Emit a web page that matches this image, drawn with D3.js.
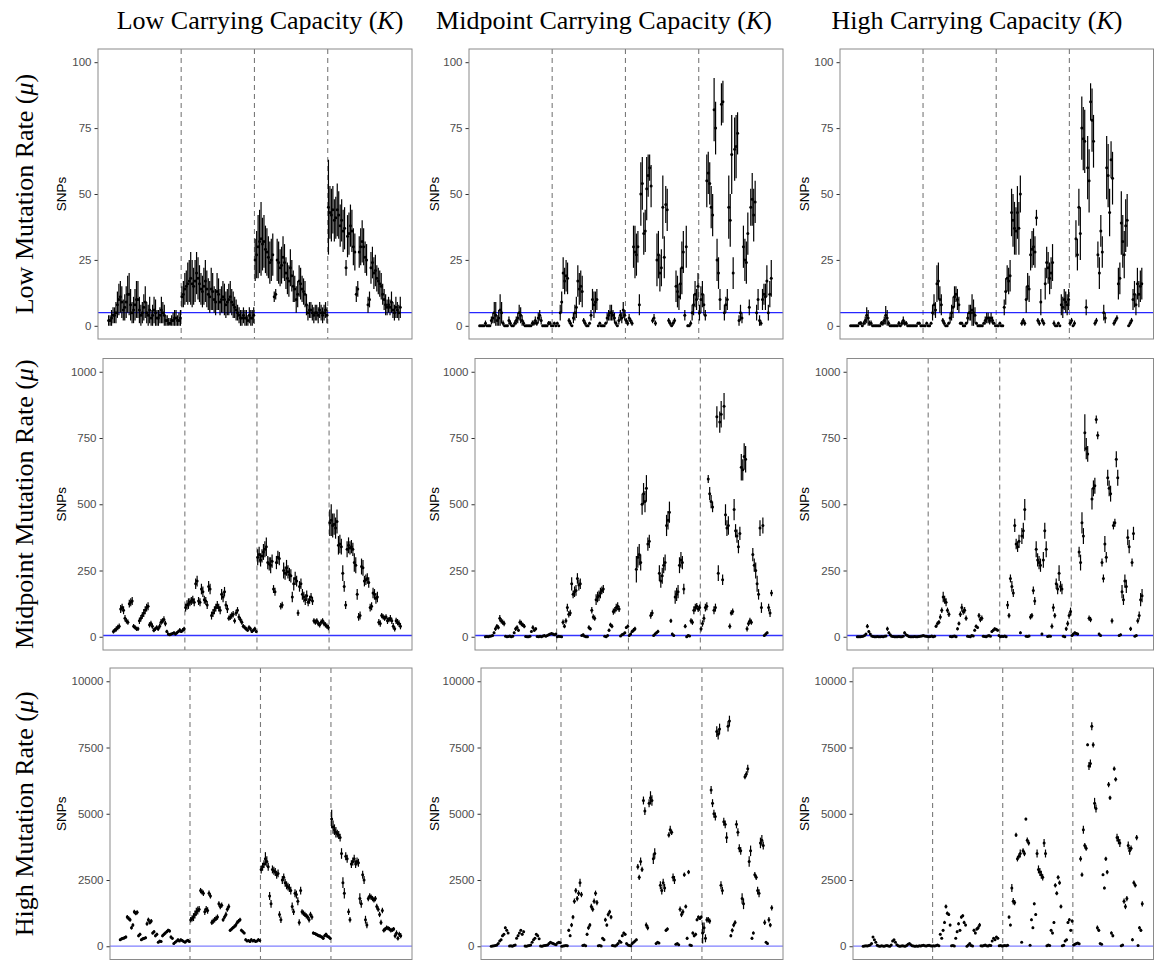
<!DOCTYPE html>
<html><head><meta charset="utf-8">
<script src="https://cdn.jsdelivr.net/npm/d3@7"></script>
<style>body{margin:0;background:#fff}</style>
</head><body>
<svg id="chart" width="1154" height="960"></svg>
<script>
// ---------- labels ----------
const colLevels = ["Low", "Midpoint", "High"];      // Carrying Capacity (K)
const rowLevels = ["Low", "Midpoint", "High"];      // Mutation Rate (μ)
const yTickValues = [[0,25,50,75,100],[0,250,500,750,1000],[0,2500,5000,7500,10000]];
const yMaxByRow = [100, 1000, 10000];
const thresholdSNPs = 5;

// ---------- data: per panel, 4 groups of mean SNPs and error half-widths ----------
const lowK_lowMu = [
 [2,2,3,4,4,5,8,10,11,9,6,7,9,12,12,8,5,6,8,10,10,6,4,5,7,9,5,4,6,3,4,6,5,3,3,4,6,5,4,2,2,1,1,2,2,3,3,2,2,3],
 [11,12,14,15,16,17,18,16,15,17,20,18,16,14,13,15,17,14,12,11,14,13,10,9,13,12,9,10,11,10,8,9,10,11,9,8,7,6,5,4,3,3,4,3,3,2,4,3,3,4],
 [25,27,30,32,33,31,32,29,28,26,24,25,27,11,12,25,24,22,23,26,24,20,18,17,22,19,15,14,10,12,17,16,14,13,12,8,5,6,6,5,4,5,5,4,6,5,4,5,6,4],
 [45,43,42,44,40,41,44,42,38,40,36,37,22,34,35,38,36,30,28,12,14,28,30,32,30,26,25,8,10,22,24,20,21,18,17,16,15,12,10,8,7,8,7,9,6,5,7,6,5,7]];
const lowK_lowMu_err = [
 [2,2,3,3,3,4,5,6,6,6,4,5,6,7,8,6,4,5,6,7,7,5,4,4,5,6,4,4,5,3,4,5,5,3,3,3,5,4,4,2,2,2,2,2,3,3,3,2,3,3],
 [4,5,6,6,8,8,10,9,7,8,8,8,7,6,6,7,8,7,6,6,8,7,5,5,7,6,5,5,6,6,5,5,6,6,5,5,4,4,3,3,3,3,3,3,3,2,3,3,3,3],
 [8,9,12,12,14,10,10,9,9,8,8,8,8,2,2,8,8,7,7,8,7,6,6,6,7,6,6,5,5,5,6,6,5,5,5,4,3,3,3,3,3,3,3,3,3,3,3,3,3,3],
 [18,10,10,9,8,8,10,9,8,8,8,8,3,8,8,8,8,7,7,3,3,6,7,8,7,6,6,3,3,6,6,6,6,5,5,5,5,4,4,4,3,3,3,4,3,3,4,3,3,4]];

const midK_lowMu = [
 [0,0,0,0,1,0,0,0,2,3,5,4,2,3,6,5,1,0,0,0,2,1,0,0,1,2,3,5,4,2,1,0,0,0,0,0,1,1,2,1,3,4,2,0,0,0,0,1,1,0],
 [0,1,0,1,0,5,9,20,17,19,18,2,1,0,3,5,7,17,14,15,13,2,1,0,0,1,4,10,8,9,10,0,1,0,0,0,1,3,4,5,5,4,3,1,0,2,4,3,6,4],
 [2,1,3,2,1,30,28,27,30,8,50,54,35,36,52,57,60,53,2,3,1,25,27,20,22,45,26,46,44,2,1,0,1,2,15,13,11,16,22,28,4,30,0,0,1,5,8,12,10,15],
 [5,10,12,8,4,55,58,54,45,42,82,75,25,20,10,84,85,5,8,10,45,40,65,20,67,68,73,2,5,3,30,25,24,35,7,45,48,42,47,5,10,2,1,10,12,11,17,5,12,18]];
const midK_lowMu_err = [
 [0.3,0.3,0.3,0.3,1,0.3,0.3,0.3,1.5,2,4,5,2,3,6,4,1,0.3,0.3,0.3,1.5,1,0.3,0.3,1,1.5,2,3,3,2,1,0.3,0.3,0.3,0.3,0.3,1,1,1.5,1,2,2,1.5,0.3,0.3,0.3,0.3,0.8,0.8,0.3],
 [0.3,0.5,0.3,0.5,0.3,3,4,6,5,6,6,1,1,0.3,2,3,4,6,6,6,6,1,1,0.3,0.3,0.5,2,4,5,4,4,0.3,0.5,0.3,0.3,0.3,0.5,2,2,3,3,2,2,1,0.3,1.5,2,2,3,2],
 [1,1,1.5,1,1,8,10,8,6,4,12,10,8,8,12,8,5,8,1,1.5,1,10,9,7,7,12,8,7,8,1,1,0.5,1,1,6,6,5,6,10,8,2,8,0.5,0.5,1,3,4,5,4,5],
 [3,5,5,4,2,10,8,8,8,8,12,10,8,6,4,8,8,3,3,4,12,10,15,6,12,12,8,2,3,2,8,8,8,8,3,7,10,10,8,3,4,2,1,4,4,5,6,3,5,7]];

const highK_lowMu = [
 [0,0,0,0,0,0,1,1,0,1,2,4,3,1,1,0,0,0,0,0,0,1,1,2,4,3,1,0,0,0,0,0,0,1,0,1,2,1,1,0,0,0,0,0,0,0,1,1,0,0],
 [0,0,1,0,0,1,5,8,6,16,17,10,8,2,1,0,0,1,3,5,7,11,12,10,8,1,1,0,0,1,3,5,5,6,5,4,1,0,0,0,0,1,2,3,3,2,3,2,1,0],
 [0,0,1,0,0,7,13,18,17,19,43,40,37,36,43,37,50,1,2,1,10,15,14,27,29,30,28,41,2,1,9,2,1,16,24,22,18,20,24,1,0,0,1,0,8,7,10,9,8,10],
 [1,2,0,1,33,27,45,35,75,71,70,7,60,55,85,78,70,1,2,27,20,36,28,5,3,60,57,43,63,56,1,2,3,16,18,39,32,27,38,40,0,1,2,10,12,8,16,12,15,16]];
const highK_lowMu_err = [
 [0.3,0.3,0.3,0.3,0.3,0.3,0.5,0.8,0.3,0.8,1.5,3,3,1,1,0.3,0.3,0.3,0.3,0.3,0.3,0.8,1,1.5,3.5,3,1,0.3,0.3,0.3,0.3,0.3,0.3,0.8,0.3,1,1.5,1,0.8,0.3,0.3,0.3,0.3,0.3,0.3,0.3,0.5,0.5,0.3,0.3],
 [0.3,0.3,0.5,0.3,0.3,0.5,3,4,3,7,7,5,4,1,1,0.3,0.3,0.5,2,3,4,4,3,4,3,0.5,0.5,0.3,0.3,0.5,2,3,3,6,5,3,0.5,0.3,0.3,0.3,0.3,0.5,1.5,2,2,1.5,2,1.5,0.5,0.3],
 [0.3,0.3,0.5,0.3,0.3,3,5,5,5,6,9,10,10,9,10,10,7,1,1,1,5,5,5,6,7,7,6,3,1,1,5,1,1,6,6,6,6,6,7,1,0.3,0.3,0.5,0.3,4,4,4,4,4,4],
 [1,1,0.5,1,7,6,7,10,12,12,12,3,12,12,7,12,10,1,1,5,6,6,6,3,2,12,12,9,7,10,1,1,1,6,6,12,10,9,10,10,0.5,1,1,4,5,4,6,5,6,6]];

const lowK_midMu = [
 [20,25,30,35,40,105,110,100,70,60,55,125,130,135,40,35,30,30,60,70,80,90,100,110,115,45,50,40,25,30,35,30,40,55,60,65,50,20,10,8,10,12,15,10,15,20,25,20,25,30],
 [110,120,125,130,135,140,130,200,210,135,130,180,170,140,135,120,190,180,80,90,100,110,120,110,100,160,150,170,120,105,70,75,80,85,60,90,100,75,65,55,40,35,30,25,35,30,20,25,30,20],
 [300,310,290,305,320,330,340,280,275,270,285,180,170,280,300,295,115,120,250,240,260,245,235,230,150,200,220,210,90,190,200,160,150,140,155,130,140,150,135,60,55,60,50,45,55,60,50,45,40,35],
 [430,440,420,425,410,435,345,350,340,240,190,120,330,345,335,340,330,280,270,160,75,80,265,260,210,215,220,205,110,115,165,160,145,150,55,50,80,75,70,75,60,65,70,60,40,30,60,55,50,40]];
const lowK_midMu_err = [
 [8,8,10,10,10,15,15,15,12,10,10,15,15,15,8,8,8,8,12,12,12,15,15,15,15,10,10,10,8,8,8,8,10,12,10,12,10,6,5,5,5,5,5,5,6,6,8,6,8,8],
 [15,18,20,15,15,15,15,20,20,15,15,20,20,15,15,15,20,20,15,15,15,15,15,15,15,20,20,18,15,15,10,12,12,12,10,12,12,12,10,10,8,8,8,6,8,8,6,6,8,6],
 [30,30,25,25,30,30,35,25,25,30,25,15,15,25,25,25,12,12,30,25,30,25,25,25,20,25,25,20,12,20,20,20,20,20,20,15,15,15,15,10,10,10,10,10,10,10,10,10,10,10],
 [50,60,45,40,40,45,35,35,30,30,20,15,30,30,25,25,25,35,30,20,15,15,30,30,20,20,20,20,15,15,20,20,20,20,12,12,10,10,10,10,12,10,12,12,12,10,12,12,12,12]];

const midK_midMu = [
 [0,1,0,2,3,5,15,30,40,35,70,60,55,50,2,0,1,3,0,2,15,30,35,25,55,50,45,40,1,0,0,2,20,35,25,30,1,0,2,0,3,5,2,5,8,10,12,10,8,10],
 [0,2,1,0,55,40,60,110,85,90,200,160,170,175,220,195,200,5,8,2,0,0,35,30,100,75,70,140,150,155,165,175,180,2,0,5,25,45,40,95,100,110,115,105,3,8,10,15,35,40],
 [5,10,20,25,30,255,300,310,280,500,540,510,560,350,360,80,90,5,10,15,20,240,210,230,270,280,420,440,470,60,10,5,150,160,170,270,290,280,180,40,0,5,3,60,55,100,110,115,105,110],
 [30,50,70,110,115,595,540,510,490,100,110,830,240,810,840,215,870,460,410,420,40,90,95,480,400,380,340,390,640,630,680,670,30,50,60,55,310,270,250,200,160,410,110,420,5,10,15,110,90,165]];
const midK_midMu_err = [
 [1,1,1,2,2,3,5,8,8,8,12,10,10,10,2,1,1,2,1,2,5,8,8,6,10,10,8,8,1,1,1,2,5,8,6,6,1,1,2,1,2,3,2,3,3,3,4,4,3,4],
 [1,2,1,1,10,8,10,15,12,12,25,15,20,20,20,20,20,3,4,2,1,1,8,6,12,10,10,20,20,20,20,15,15,2,1,3,6,8,8,12,12,15,15,12,2,4,4,4,6,6],
 [3,5,6,8,8,50,40,40,30,40,40,40,50,25,25,12,12,3,5,5,6,30,25,30,30,30,40,35,40,8,5,3,25,25,25,30,30,25,20,8,1,3,2,10,10,15,15,12,12,12],
 [10,12,15,15,15,15,25,25,20,15,15,40,30,40,50,20,50,40,30,35,10,10,12,40,25,25,25,25,50,40,50,50,10,10,12,10,25,25,30,30,20,30,20,30,3,5,5,15,15,12]];

const highK_midMu = [
 [0,0,0,1,2,5,10,40,20,10,3,1,0,0,1,0,0,1,0,2,3,30,15,8,2,1,0,0,0,1,0,0,2,15,8,5,1,0,0,0,1,0,0,1,2,3,5,3,2,1],
 [0,1,3,0,2,40,50,55,75,100,150,140,130,100,85,1,0,2,3,0,30,50,85,110,95,100,70,2,1,0,5,3,25,40,35,80,65,70,2,1,0,3,5,2,20,25,30,28,25,5],
 [0,2,1,3,0,120,80,220,190,165,420,350,340,360,15,380,400,480,2,1,3,75,80,175,135,330,290,280,270,10,290,400,330,1,3,2,40,110,80,200,180,240,190,180,2,0,30,50,80,95],
 [5,10,15,12,10,320,280,430,380,770,710,690,70,65,520,560,570,820,760,10,5,280,220,350,300,600,560,540,60,420,430,670,600,5,8,170,140,210,190,375,340,30,280,390,2,5,60,80,140,155]];
const highK_midMu_err = [
 [0.5,0.5,0.5,1,1,2,4,8,5,4,2,1,0.5,0.5,1,0.5,0.5,1,0.5,1,2,8,5,3,1,1,0.5,0.5,0.5,1,0.5,0.5,1,5,3,2,1,0.5,0.5,0.5,1,0.5,0.5,1,1,2,2,2,1,1],
 [0.5,1,2,0.5,1,6,8,8,10,10,20,15,15,10,10,1,0.5,1,2,0.5,6,8,10,15,12,12,10,1,1,0.5,2,2,5,6,6,10,10,10,1,1,0.5,2,2,1,5,5,5,5,5,2],
 [0.5,1,1,2,0.5,15,10,15,20,15,25,20,20,25,5,30,30,40,1,1,2,10,10,15,15,30,25,25,25,5,30,30,30,1,2,1,10,15,10,20,20,30,20,20,1,0.5,8,10,12,15],
 [3,5,5,5,5,20,30,40,30,70,40,30,10,10,40,30,30,15,15,5,3,15,15,30,20,30,30,30,10,15,15,30,30,3,4,25,20,25,25,30,25,8,15,25,1,3,10,15,25,25]];

const lowK_highMu = [
 [250,280,300,320,350,1100,1050,1000,700,800,1300,1250,1280,400,450,250,280,300,320,850,1000,900,950,500,550,400,450,150,200,180,400,450,500,550,600,580,350,300,100,150,200,250,200,250,220,180,150,200,230,180],
 [1000,1050,1100,1200,1300,1350,1400,2100,2050,2000,1300,1400,1350,2000,1900,900,950,1000,1050,1100,1600,1500,1550,1000,1100,1200,1400,1500,600,650,700,750,800,900,950,1000,600,550,500,250,200,220,180,250,200,230,180,200,250,220],
 [2900,3000,3100,3300,3200,3000,1900,1600,2900,2850,2800,2700,2750,1200,1000,2500,2600,2400,2300,2250,2200,2100,1500,1300,2000,1950,1700,900,2100,1300,1250,1200,1150,1100,1000,1200,1100,500,480,450,420,400,380,350,300,400,450,380,350,300],
 [4800,4500,4400,4300,4250,4200,4100,3500,2400,2000,3400,3300,1300,1000,3100,3200,3300,3100,3200,3150,1800,1600,2700,2500,1000,800,1800,1900,1850,1800,1750,1800,1500,1400,1200,900,1350,600,650,700,680,650,600,620,650,400,500,300,450,400]];
const lowK_highMu_err = [
 [50,50,50,60,60,80,80,80,70,70,80,80,80,60,60,50,50,50,50,80,80,80,80,60,60,60,60,40,40,40,60,60,60,60,60,60,60,50,30,40,40,40,40,40,40,40,30,40,40,30],
 [100,120,150,150,150,150,120,100,100,100,120,120,120,100,100,100,100,100,100,100,100,100,100,80,80,100,100,100,60,60,60,70,80,80,80,80,60,60,50,50,40,40,40,50,40,40,40,40,50,40],
 [150,150,150,250,200,150,150,150,150,150,150,150,150,120,120,150,150,150,150,150,150,150,150,120,150,150,150,120,150,100,100,100,100,100,100,100,100,60,60,60,60,60,60,60,60,60,60,60,60,60],
 [350,250,200,200,150,150,150,200,200,200,150,150,120,100,150,150,150,150,150,150,200,150,150,150,150,120,100,100,100,100,100,100,100,100,100,100,100,80,80,80,80,80,80,80,80,100,100,80,100,100]];

const midK_highMu = [
 [0,10,20,30,50,100,200,250,400,450,700,600,500,10,20,0,30,50,300,400,500,600,450,550,10,0,20,30,50,150,250,300,450,400,280,10,0,20,30,40,50,100,150,120,100,80,60,120,150,130],
 [0,10,20,30,20,600,400,800,1100,1700,2100,1800,2000,2400,1950,30,50,20,450,700,800,1500,1400,1700,2000,1650,20,30,10,300,250,1000,800,1200,1300,1100,30,20,10,50,100,200,150,400,500,450,100,50,30,20],
 [100,150,200,250,3000,2600,3200,2900,5500,5100,800,700,5400,5600,5500,3300,3500,100,150,120,2300,2100,2400,2200,600,650,4200,4400,4300,2600,2500,80,100,60,1400,1200,1300,2700,1500,300,2800,50,30,500,400,450,1000,1100,1050,1100],
 [500,700,300,1000,1000,950,5900,5400,5000,4900,8100,8000,8200,2300,2100,4700,4600,4100,8300,8500,400,600,800,900,4600,4300,3700,3600,1800,1600,6400,6500,6700,3200,3600,300,500,2700,2600,2100,2000,3900,4000,3800,900,150,100,1000,800,1450]];
const midK_highMu_err = [
 [10,10,10,10,15,20,30,30,40,40,50,40,40,10,10,10,10,15,30,40,40,40,40,40,10,10,10,10,15,20,30,30,40,40,30,10,10,10,10,10,15,20,20,20,20,15,15,20,20,20],
 [10,10,10,10,10,60,50,80,80,100,100,100,100,150,100,10,15,10,60,80,80,100,100,100,100,100,10,10,10,40,40,80,60,80,80,80,10,10,10,15,30,30,30,50,50,50,20,15,10,10],
 [30,30,40,40,100,100,150,100,150,150,100,100,150,250,200,200,200,30,30,30,150,150,150,150,60,60,100,150,100,150,150,20,20,20,100,100,100,80,80,60,80,15,15,60,60,60,60,60,60,60],
 [400,200,150,100,100,100,150,150,150,150,200,200,200,150,150,150,150,200,200,200,60,80,80,80,150,150,150,150,200,200,100,100,150,200,200,60,60,100,100,150,150,200,200,150,100,40,30,100,80,100]];

const highK_highMu = [
 [0,10,20,10,30,50,100,350,250,150,40,10,0,20,10,0,20,30,10,0,50,200,250,150,60,20,0,10,20,10,0,30,80,100,60,20,10,0,10,0,20,10,30,40,20,10,30,40,20,10],
 [20,10,30,50,20,450,300,600,900,1500,1250,1200,800,20,30,10,300,550,850,600,1100,1150,900,800,0,50,100,30,10,600,500,650,700,800,20,10,30,50,20,10,40,30,200,300,250,350,300,20,30,10],
 [20,30,20,40,1100,800,2200,1700,1650,4200,3300,3400,3500,150,3600,3500,4800,4000,3900,40,1000,700,1600,1200,3500,2900,2800,2700,2600,3900,3500,20,50,30,600,500,900,2300,2000,2600,2400,1500,20,40,200,250,900,1000,600,950],
 [50,80,100,120,90,3300,2700,4400,3800,3700,7600,6800,6900,8300,7600,5400,5200,700,600,100,80,2700,2200,3300,2800,6100,5600,500,400,6700,6300,4100,4000,3900,20,50,1700,1500,1800,3800,3600,3700,250,2400,2300,4100,30,700,600,1600]];
const highK_highMu_err = [
 [5,5,5,5,10,10,15,30,25,20,10,5,5,5,5,5,5,10,5,5,10,20,25,20,10,5,5,5,5,5,5,10,15,15,10,5,5,5,5,5,5,5,10,10,5,5,10,10,5,5],
 [10,5,10,10,10,40,40,50,60,80,60,60,50,10,10,5,40,50,60,50,60,60,60,50,5,15,20,10,5,60,50,60,80,80,10,5,10,10,10,5,10,10,30,40,30,40,40,10,10,5],
 [10,10,10,10,60,50,150,120,100,80,100,100,150,20,100,100,50,100,100,10,50,50,50,50,150,150,150,150,120,150,150,10,10,10,50,50,50,80,80,80,80,80,10,10,30,30,50,60,50,60],
 [20,20,30,30,20,100,80,150,100,100,50,150,150,150,100,200,150,80,60,20,20,50,50,80,80,100,80,60,60,80,80,150,150,150,10,10,100,100,100,150,150,100,60,80,80,100,10,60,60,100]];

const panelMeans = [[lowK_lowMu, midK_lowMu, highK_lowMu],
                    [lowK_midMu, midK_midMu, highK_midMu],
                    [lowK_highMu, midK_highMu, highK_highMu]];
const panelErrs  = [[lowK_lowMu_err, midK_lowMu_err, highK_lowMu_err],
                    [lowK_midMu_err, midK_midMu_err, highK_midMu_err],
                    [lowK_highMu_err, midK_highMu_err, highK_highMu_err]];

// ---------- layout ----------
const rowTop = [49, 358.5, 668];
const rowBottom = [339, 650, 959.5];
const colRight = [412, 783, 1153.5];
const panelLeft = [[98, 469, 840], [103, 475, 847], [110, 481, 853]];
const colTitleX = [260, 604, 977];
const snpsX = [66, 439, 809];
const hlineOpacity = [0.85, 0.8, 0.5];

const svg = d3.select("#chart");
const serif = "'Liberation Serif','Times New Roman',serif";
const sans = "'Liberation Sans',Arial,sans-serif";

colLevels.forEach((lv, c) => {
  const t = svg.append("text").attr("x", colTitleX[c]).attr("y", 29)
    .attr("text-anchor", "middle").style("font-family", serif).style("font-size", "26px").attr("fill", "#000");
  t.append("tspan").text(lv + " Carrying Capacity (");
  t.append("tspan").style("font-style", "italic").text("K");
  t.append("tspan").text(")");
});
rowLevels.forEach((lv, r) => {
  const cy = (rowTop[r] + rowBottom[r]) / 2;
  const t = svg.append("text").attr("transform", `translate(33,${cy}) rotate(-90)`)
    .attr("text-anchor", "middle").style("font-family", serif).style("font-size", "26px").attr("fill", "#000");
  t.append("tspan").text(lv + " Mutation Rate (");
  t.append("tspan").style("font-style", "italic").text("μ");
  t.append("tspan").text(")");
});

for (let r = 0; r < 3; r++) {
  for (let c = 0; c < 3; c++) {
    const groups = panelMeans[r][c], errGroups = panelErrs[r][c];
    const nG = groups.length;
    const L = panelLeft[r][c], R = colRight[c], T = rowTop[r], B = rowBottom[r];
    const ymax = yMaxByRow[r];
    const x = d3.scaleLinear().domain([-0.135, nG + 0.15]).range([L, R]);
    const y = d3.scaleLinear().domain([-0.05 * ymax, 1.05 * ymax]).range([B, T]);
    const g = svg.append("g");

    const ax = g.append("g").attr("transform", `translate(${L},0)`)
      .call(d3.axisLeft(y).tickValues(yTickValues[r]).tickFormat(d3.format("d")).tickSize(3.5).tickPadding(3));
    ax.select(".domain").remove();
    ax.selectAll(".tick line").attr("stroke", "#333").attr("stroke-width", 1);
    ax.selectAll(".tick text").attr("fill", "#4d4d4d").style("font-family", sans).style("font-size", "11.5px");

    g.append("text").attr("transform", `translate(${snpsX[c]},${(T + B) / 2}) rotate(-90)`)
      .attr("text-anchor", "middle").style("font-family", sans).style("font-size", "13.5px").attr("fill", "#000").text("SNPs");

    const seps = d3.range(1, nG);
    g.selectAll(".sep").data(seps).join("line")
      .attr("x1", d => x(d)).attr("x2", d => x(d)).attr("y1", T).attr("y2", B)
      .attr("stroke", "#7a7a7a").attr("stroke-width", 1.1).attr("stroke-dasharray", "5,4");

    g.append("line").attr("x1", L).attr("x2", R).attr("y1", y(thresholdSNPs)).attr("y2", y(thresholdSNPs))
      .attr("stroke", "blue").attr("stroke-opacity", hlineOpacity[r]).attr("stroke-width", 1.4);

    const pts = [];
    groups.forEach((arr, gi) => arr.forEach((m, j) => {
      pts.push({xv: gi + (j + 0.5) / arr.length, m, e: (errGroups[gi][j] ?? 0)});
    }));
    g.selectAll(".eb").data(pts).join("line")
      .attr("x1", d => x(d.xv)).attr("x2", d => x(d.xv))
      .attr("y1", d => y(Math.max(0, d.m - d.e))).attr("y2", d => y(d.m + d.e))
      .attr("stroke", "#000").attr("stroke-width", 1.2);
    g.selectAll(".pt").data(pts).join("circle")
      .attr("cx", d => x(d.xv)).attr("cy", d => y(d.m)).attr("r", 1.5).attr("fill", "#000");

    g.append("rect").attr("x", L).attr("y", T).attr("width", R - L).attr("height", B - T)
      .attr("fill", "none").attr("stroke", "#8a8a8a").attr("stroke-width", 1);
  }
}
</script>
</body></html>
